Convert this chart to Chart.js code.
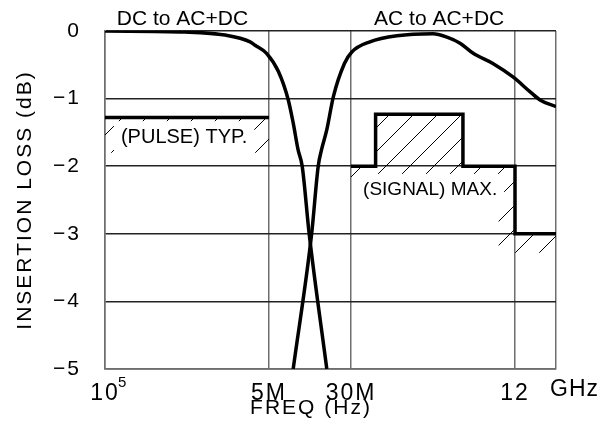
<!DOCTYPE html>
<html>
<head>
<meta charset="utf-8">
<script src="https://cdn.jsdelivr.net/npm/chart.js@4"></script>
<style>
  html, body { margin: 0; padding: 0; background: #fff; }
</style>
</head>
<body>
<canvas id="myChart" width="613" height="428"></canvas>
<script>
  // x runs in "grid units" of the drawing: 10^5 = 0, 5M = 4, 30M = 6, 12 GHz = 10
  const xTicks = [0, 4, 6, 10, 11];
  const xTickLabels = ['10', '5M', '30M', '12', ''];
  const yTicks = [0, -1, -2, -3, -4, -5];

  // "DC to AC+DC" response
  const dcX = [0, 1.95, 2.93, 3.54, 3.66, 3.94, 4.23, 4.47, 4.59, 4.71, 4.81, 4.98, 5.41];
  const dcY = [0, -0.015, -0.06, -0.16, -0.21, -0.33, -0.60, -1.02, -1.36, -1.76, -2.0, -3.0, -5.0];

  // "AC to AC+DC" response
  const acX = [4.59, 5.04, 5.20, 5.28, 5.41, 5.57, 5.84, 6.02, 6.46, 7.12, 8.0, 8.34, 8.66, 8.98, 9.46, 9.95, 10.37, 10.61, 11.0];
  const acY = [-5.0, -3.0, -2.0, -1.76, -1.46, -0.97, -0.48, -0.31, -0.16, -0.07, -0.04, -0.09, -0.18, -0.33, -0.48, -0.68, -0.90, -1.02, -1.12];

  // (PULSE) TYP. limit
  const pulseX = [0, 4];
  const pulseY = [-1.28, -1.28];
  const pulseHatchY = [-1.8, -1.8];

  // (SIGNAL) MAX. limit
  const signalX = [6, 6.6, 6.6, 8.73, 8.73, 10, 10, 11];
  const signalY = [-2, -2, -1.23, -1.23, -2, -2, -3, -3];
  const signalHatchX = [6, 6.6, 6.6, 8.73, 8.73, 9.6, 9.6, 11];
  const signalHatchY = [-2.28, -2.28, -2.28, -2.28, -2.28, -2.28, -3.28, -3.28];

  const pts = (xs, ys) => xs.map((x, i) => ({ x: x, y: ys[i] }));
  const FONT = "'Liberation Sans', Arial, sans-serif";
  Chart.defaults.font.family = FONT;
  Chart.defaults.color = '#000';

  function hatch() {
    const c = document.createElement('canvas');
    c.width = 24; c.height = 24;
    const g = c.getContext('2d');
    g.strokeStyle = '#000';
    g.lineWidth = 1;
    g.beginPath();
    g.moveTo(0, 24); g.lineTo(24, 0);
    g.moveTo(-2, 2); g.lineTo(2, -2);
    g.moveTo(22, 26); g.lineTo(26, 22);
    g.stroke();
    return g.createPattern(c, 'repeat');
  }
  const pattern = hatch();

  const notes = [
    { text: 'DC to AC+DC', x: 1.89, y: 0.18, size: 21, sp: 0 },
    { text: 'AC to AC+DC', x: 8.15, y: 0.18, size: 21, sp: 0 },
    { text: '(PULSE) TYP.', x: 1.93, y: -1.57, size: 20, sp: 0, clear: true },
    { text: '(SIGNAL) MAX.', x: 7.93, y: -2.35, size: 19, sp: 0, clear: true },
    { text: '5', x: 0.42, y: -5.2, size: 15, sp: 0 },
    { text: 'GHz', x: 11.44, y: -5.30, size: 23, sp: 1 },
    { text: 'FREQ (Hz)', x: 5.0, y: -5.58, size: 21, sp: 2 }
  ];

  const notesPlugin = {
    id: 'notes',
    beforeDraw(chart) {
      chart.ctx.letterSpacing = '2px';
    },
    afterDraw(chart) {
      const c = chart.ctx, sx = chart.scales.x, sy = chart.scales.y;
      c.save();
      c.textAlign = 'center';
      c.textBaseline = 'middle';
      notes.forEach(n => {
        const px = sx.getPixelForValue(n.x), py = sy.getPixelForValue(n.y);
        c.font = n.size + 'px ' + FONT;
        c.letterSpacing = n.sp + 'px';
        if (n.clear) {
          const w = c.measureText(n.text).width + 14;
          c.fillStyle = '#fff';
          c.fillRect(px - w / 2, py - 16, w, 32);
        }
        c.fillStyle = '#000';
        c.fillText(n.text, px + n.sp / 2, py);
      });
      c.restore();
      c.letterSpacing = '0px';
    }
  };

  const ctx = document.getElementById('myChart').getContext('2d');
  new Chart(ctx, {
    type: 'line',
    data: {
      datasets: [
        { data: pts(dcX, dcY), borderColor: '#000', borderWidth: 3.5, pointRadius: 0, cubicInterpolationMode: 'monotone', fill: false },
        { data: pts(acX, acY), borderColor: '#000', borderWidth: 3.5, pointRadius: 0, cubicInterpolationMode: 'monotone', fill: false },
        { data: pts(pulseX, pulseY), borderColor: '#000', borderWidth: 3.5, pointRadius: 0, fill: false },
        { data: pts(pulseX, pulseHatchY), borderWidth: 0, borderColor: 'rgba(0,0,0,0)', pointRadius: 0,
          fill: { target: 2, above: pattern, below: pattern } },
        { data: pts(signalX, signalY), borderColor: '#000', borderWidth: 3.5, pointRadius: 0, fill: false },
        { data: pts(signalHatchX, signalHatchY), borderWidth: 0, borderColor: 'rgba(0,0,0,0)', pointRadius: 0,
          fill: { target: 4, above: pattern, below: pattern } }
      ]
    },
    options: {
      responsive: false,
      animation: false,
      layout: { padding: { top: 31, right: 57, left: 0, bottom: 0 } },
      plugins: { legend: { display: false }, tooltip: { enabled: false } },
      scales: {
        x: {
          type: 'linear', min: 0, max: 11,
          afterBuildTicks: axis => { axis.ticks = xTicks.map(v => ({ value: v })); },
          afterFit: axis => { axis.height = 59; },
          ticks: {
            callback: v => xTickLabels[xTicks.indexOf(v)],
            font: { size: 23 }, padding: 11, maxRotation: 0, autoSkip: false
          },
          grid: { color: '#6e6e6e', lineWidth: 1.5, drawTicks: false },
          border: { color: '#6e6e6e', width: 1.5 }
        },
        y: {
          min: -5, max: 0,
          afterBuildTicks: axis => { axis.ticks = yTicks.map(v => ({ value: v })); },
          afterFit: axis => {
            axis.width = 105;
            axis.paddingTop = 0;
            axis.paddingBottom = 0;
          },
          ticks: {
            callback: v => v === 0 ? '0' : '\u2212' + Math.abs(v),
            font: { size: 21 }, padding: 24
          },
          grid: { color: '#222', lineWidth: 1.5, drawTicks: false },
          border: { color: '#6e6e6e', width: 1.5 },
          title: { display: true, text: 'INSERTION LOSS (dB)', font: { size: 21 }, padding: { top: 13, bottom: 0 } }
        }
      }
    },
    plugins: [notesPlugin]
  });
</script>
</body>
</html>
